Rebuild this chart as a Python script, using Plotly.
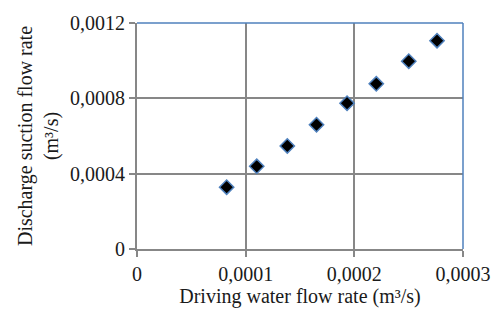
import plotly.graph_objects as go

driving_flow = [0.0000825, 0.0001102, 0.0001383, 0.0001652, 0.0001933, 0.0002202, 0.0002501, 0.0002761]
suction_flow = [0.000328, 0.000439, 0.000547, 0.000660, 0.000774, 0.000877, 0.000997, 0.001106]

x_tickvals = [0, 0.0001, 0.0002, 0.0003]
x_ticktext = ["0", "0,0001", "0,0002", "0,0003"]
y_tickvals = [0, 0.0004, 0.0008, 0.0012]
y_ticktext = ["0", "0,0004", "0,0008", "0,0012"]

font_family = "Liberation Serif, Times New Roman, serif"
grid_color = "#878787"
frame_blue = "#4F81BD"

fig = go.Figure()
fig.add_trace(go.Scatter(
    x=driving_flow, y=suction_flow, mode="markers",
    marker=dict(symbol="diamond", size=11, color="black",
                line=dict(color=frame_blue, width=1.5)),
    showlegend=False,
))

fig.update_layout(
    width=503, height=316,
    margin=dict(l=137, r=35, t=17, b=67),
    paper_bgcolor="white", plot_bgcolor="white",
    font=dict(family=font_family, size=20, color="#1a1a1a"),
    xaxis=dict(
        range=[0, 0.0003], tickvals=x_tickvals, ticktext=x_ticktext,
        showgrid=True, gridcolor=grid_color, gridwidth=2,
        showline=True, linecolor=grid_color, linewidth=2,
        ticks="outside", ticklen=6, tickcolor=grid_color, tickwidth=2,
        zeroline=False,
        title=dict(text="Driving water flow rate (m³/s)", font=dict(size=20), standoff=2),
        tickfont=dict(size=20),
    ),
    yaxis=dict(
        range=[0, 0.0012], tickvals=y_tickvals, ticktext=y_ticktext,
        showgrid=True, gridcolor=grid_color, gridwidth=2,
        showline=True, linecolor=grid_color, linewidth=2,
        ticks="outside", ticklen=6, tickcolor=grid_color, tickwidth=2,
        zeroline=False,
        title=dict(text="Discharge suction flow rate<br>(m³/s)", font=dict(size=20), standoff=6),
        tickfont=dict(size=20),
    ),
    shapes=[
        dict(type="line", xref="paper", yref="paper", x0=0, x1=1, y0=1, y1=1,
             line=dict(color=frame_blue, width=1.5)),
        dict(type="line", xref="paper", yref="paper", x0=1, x1=1, y0=0, y1=1,
             line=dict(color=frame_blue, width=1.5)),
    ],
)

fig.write_html("out.html", config={"displayModeBar": False},
               post_script="document.body.style.margin='0';")
